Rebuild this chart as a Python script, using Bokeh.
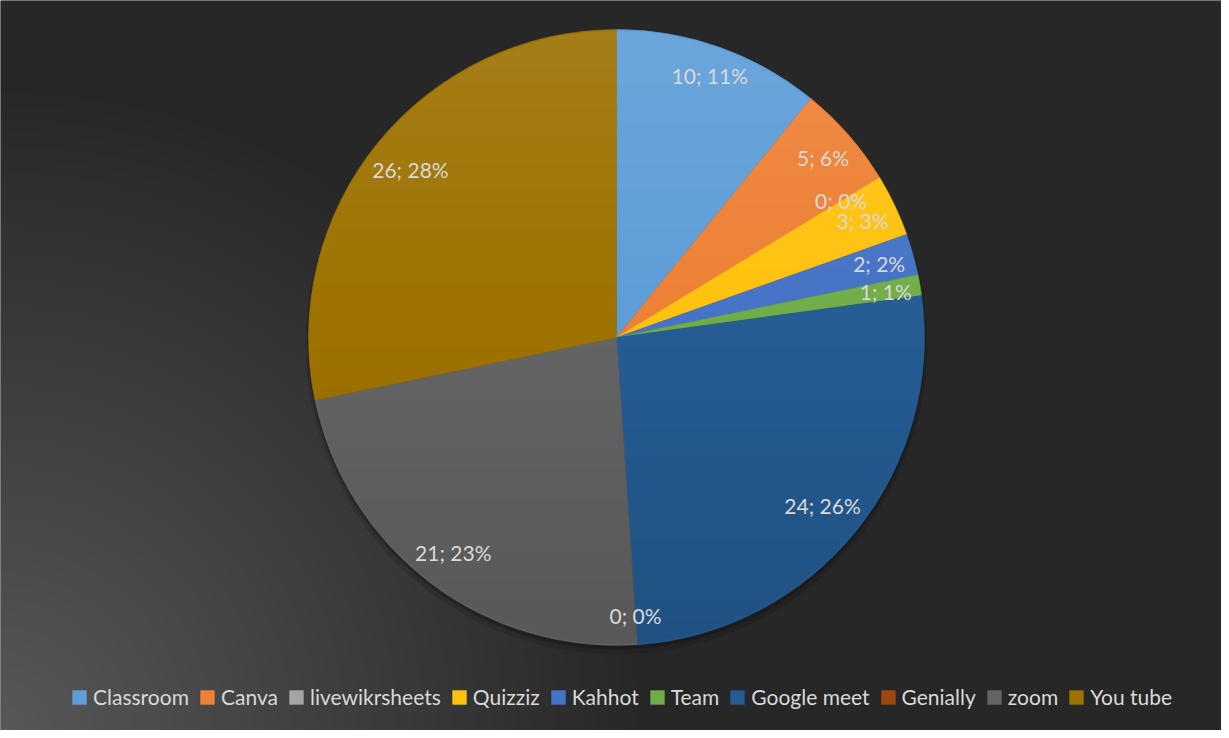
import numpy as np
from bokeh.plotting import figure
from bokeh.models import ColumnDataSource, Legend, LegendItem
from bokeh.core.properties import value
from bokeh.embed import file_html
from bokeh.resources import INLINE

# ---- data ----
names = ["Classroom", "Canva", "livewikrsheets", "Quizziz", "Kahhot", "Team",
         "Google meet", "Genially", "zoom", "You tube"]
counts = [10, 5, 0, 3, 2, 1, 24, 0, 21, 26]
percents = [11, 6, 0, 3, 2, 1, 26, 0, 23, 28]
colors = ["#5D9DD8", "#EE8035", "#A5A5A5", "#FFC20E", "#4573C6", "#70AD47",
          "#255C93", "#9E480E", "#646464", "#9D7200"]

# ---- layout ----
W, H = 1221, 730
CX, CY, R = 616, 393, 308
FS = 21
FONT = "Lato"
TXT = "#D9D9D9"

p = figure(width=W, height=H, x_range=(0, W), y_range=(0, H),
           x_axis_type=None, y_axis_type=None, min_border=0,
           toolbar_location=None, output_backend="svg",
           background_fill_color="#262626", border_fill_color="#262626",
           outline_line_color=None)
p.grid.visible = False


def rgba_image(r, g, b, a):
    ny, nx = r.shape
    img = np.zeros((ny, nx), dtype=np.uint32)
    v = img.view(np.uint8).reshape(ny, nx, 4)
    v[..., 0] = r
    v[..., 1] = g
    v[..., 2] = b
    v[..., 3] = a
    return img


# background radial gradient (lighter at bottom-left)
ny, nx = H // 4, W // 4
yy, xx = np.mgrid[0:ny, 0:nx]
px = (xx + 0.5) * W / nx
py = (yy + 0.5) * H / ny
t = np.clip(1 - np.hypot(px, py) / 650.0, 0, 1)
g = (0x27 + (0x58 - 0x27) * t).astype(np.uint8)
p.image_rgba(image=[rgba_image(g, g, g, np.full_like(g, 255))],
             x=0, y=0, dw=W, dh=H)

# soft shadow
for off, alpha, extra in [(6, 0.12, 3), (3, 0.2, 1)]:
    p.circle(x=[CX], y=[CY - off], radius=R + extra, fill_color="black",
             fill_alpha=alpha, line_color=None)

# wedges
total = float(sum(counts))
cum = np.cumsum([0] + counts)
a0 = cum[:-1] / total * 2 * np.pi
a1 = cum[1:] / total * 2 * np.pi
nz = [i for i, c in enumerate(counts) if c > 0]
wsrc = ColumnDataSource(dict(
    start=[np.pi / 2 - a1[i] for i in nz],
    end=[np.pi / 2 - a0[i] for i in nz],
    color=[colors[i] for i in nz],
))
p.wedge(x=CX, y=CY, radius=R, start_angle="start", end_angle="end",
        direction="anticlock", fill_color="color", line_color="color",
        line_width=0.5, source=wsrc)

# light/shade overlay on the pie (lighter top, darker bottom)
n = 2 * R // 2
oy, ox = np.mgrid[0:n, 0:n]
sx = (ox + 0.5) * 2 * R / n - R
sy = (oy + 0.5) * 2 * R / n - R
cover = np.clip(R - np.hypot(sx, sy) - 0.5, 0, 1)
tt = (sy + R) / (2 * R)  # 0 bottom .. 1 top
white = np.clip((tt - 0.5) * 2, 0, 1) * 0.09
black = np.clip((0.5 - tt) * 2, 0, 1) * 0.12
alpha = np.where(white > 0, white, black) * cover
col = np.where(white > 0, 255, 0).astype(np.uint8)
p.image_rgba(image=[rgba_image(col, col, col, (alpha * 255).astype(np.uint8))],
             x=CX - R, y=CY - R, dw=2 * R, dh=2 * R)

# data labels (inside end)
labels = [f"{c}; {q}%" for c, q in zip(counts, percents)]
mid = (a0 + a1) / 2
lx, ly = [], []
for lab, m, c in zip(labels, mid, counts):
    hw = len(lab) * FS * 0.25
    hh = FS * 0.52
    pad = 7 if c > 0 else 17
    r = R - pad - (abs(np.sin(m)) * hw + abs(np.cos(m)) * hh)
    lx.append(CX + r * np.sin(m))
    ly.append(CY + r * np.cos(m))
p.text(x=lx, y=ly, text=labels, text_align="center", text_baseline="middle",
       text_font=value(FONT), text_font_size=f"{FS}px", text_color=TXT)

# legend
lsrc = ColumnDataSource(dict(x=[np.nan] * len(names), y=[np.nan] * len(names),
                             color=colors))
lr = p.rect(x="x", y="y", width=1, height=1, fill_color="color",
            line_color=None, source=lsrc)
items = [LegendItem(label=n_, renderers=[lr], index=i) for i, n_ in enumerate(names)]
legend = Legend(items=items, orientation="horizontal", location=(70, 21),
                label_text_font=FONT, label_text_font_size=f"{FS}px",
                label_text_color=TXT, glyph_width=18, glyph_height=18,
                label_standoff=5, spacing=9, padding=0, margin=0,
                background_fill_alpha=0, border_line_alpha=0)
p.add_layout(legend, "center")

open("out.html", "w").write(file_html(p, INLINE))
